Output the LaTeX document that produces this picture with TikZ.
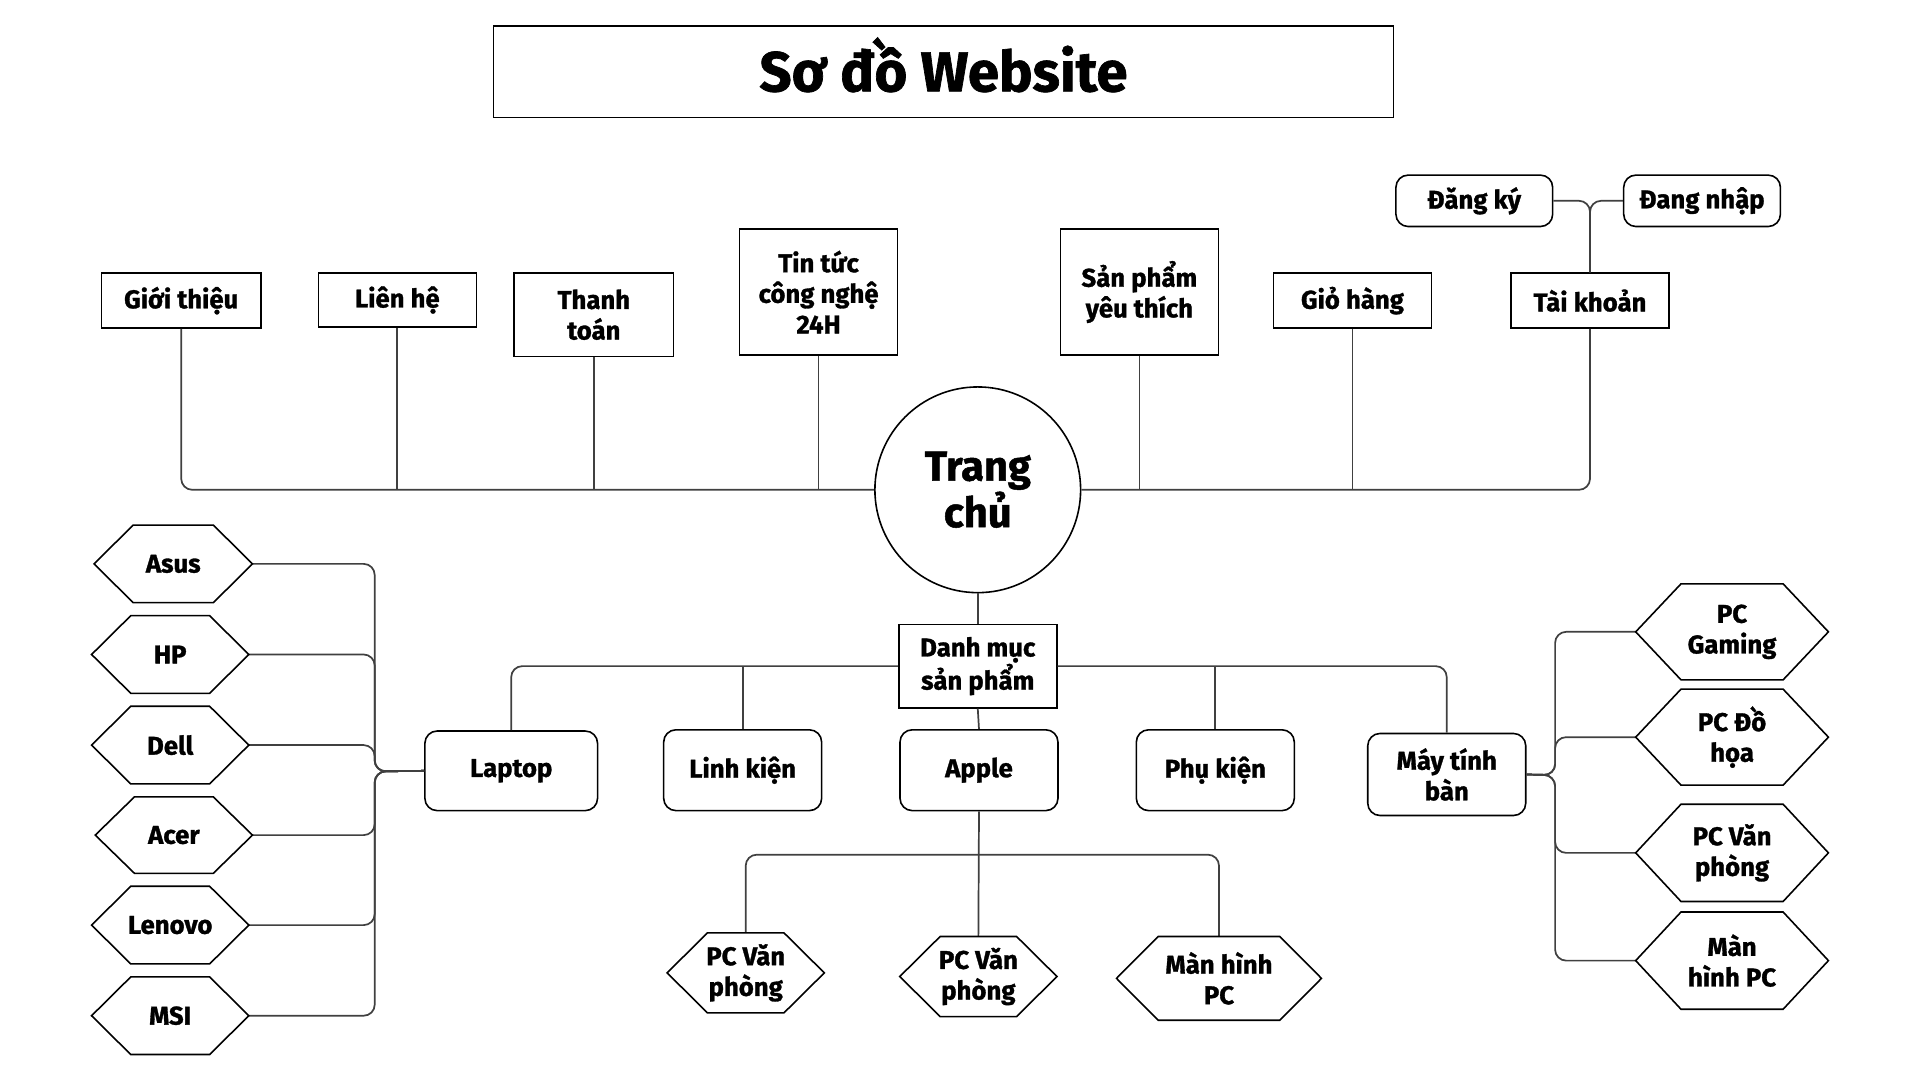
\documentclass[tikz,border=0pt]{standalone}
\usepackage{fontspec}
\setmainfont{Fira Sans}[BoldFeatures={FakeBold=1.2}]
\definecolor{conncol}{HTML}{404040}
\tikzset{
  box/.style={draw=black, line width=1.3pt, fill=white, inner sep=0pt, align=center,
    font=\fontsize{21}{25}\selectfont\bfseries},
  sqbox/.style={box},
  rbox/.style={box, rounded corners=10pt},
  hexbox/.style={inner sep=0pt, align=center, font=\fontsize{21}{25}\selectfont\bfseries},
  hexline/.style={draw=black, line width=1.3pt, fill=white},
  conn/.style={draw=conncol, line width=1.4pt, rounded corners=9pt},
  straightconn/.style={draw=conncol, line width=1.4pt},
}
\newcommand{\hexo}[2]{\path[hexline] (#1.west) -- ([xshift=#2]#1.north west) -- ([xshift=-#2]#1.north east) -- (#1.east) -- ([xshift=-#2]#1.south east) -- ([xshift=#2]#1.south west) -- cycle;}
\begin{document}
\begin{tikzpicture}[x=1pt,y=-1pt]
\useasboundingbox[fill=white] (0,0) rectangle (1568,882);

% title
\node[draw=black, line width=1.3pt, minimum width=735pt, minimum height=75pt, inner sep=0pt] (title) at (770.5,58.5) {};
\node[font=\fontsize{46}{50}\selectfont\bfseries, inner sep=0pt] (titleT) at (770.5,53) {Sơ đồ Website};

\coordinate (ab) at (799,698);
\coordinate (lb) at (306,630);
\coordinate (rb) at (1270,633);

% top row nodes
\node[sqbox, minimum width=130pt, minimum height=45pt] (gioi) at (148,245.5) {Giới thiệu};
\node[sqbox, minimum width=129pt, minimum height=44pt] (lien) at (324.5,245) {Liên hệ};
\node[sqbox, minimum width=130pt, minimum height=68pt] (thanh) at (485,257) {Thanh\\toán};
\node[sqbox, minimum width=129pt, minimum height=103pt] (tin) at (668.5,238.5) {Tin tức\\công nghệ\\24H};
\node[sqbox, minimum width=129pt, minimum height=103pt] (sp) at (930.5,238.5) {Sản phẩm\\yêu thích};
\node[sqbox, minimum width=129pt, minimum height=45pt] (gio) at (1104.5,245.5) {Giỏ hàng};
\node[sqbox, minimum width=129pt, minimum height=45pt] (tk) at (1298.5,245.5) {Tài khoản};
\node[rbox, minimum width=128pt, minimum height=42pt] (dk) at (1204,164) {Đăng ký};
\node[rbox, minimum width=128pt, minimum height=42pt] (dn) at (1390,164) {Đang nhập};

% centre
\node[circle, draw=black, line width=1.3pt, fill=white, minimum size=168pt, inner sep=0pt, align=center,
  font=\fontsize{34}{38}\selectfont\bfseries] (trang) at (798.5,400) {Trang\\chủ};
\node[sqbox, minimum width=129pt, minimum height=68pt] (dm) at (798.5,544) {Danh mục\\sản phẩm};

% second row
\node[rbox, minimum width=141pt, minimum height=65pt] (laptop) at (417.5,629.5) {Laptop};
\node[rbox, minimum width=129pt, minimum height=66pt] (linh) at (606.5,629) {Linh kiện};
\node[rbox, minimum width=129pt, minimum height=66pt] (apple) at (799.5,629) {Apple};
\node[rbox, minimum width=129pt, minimum height=66pt] (phu) at (992.5,629) {Phụ kiện};
\node[rbox, minimum width=129pt, minimum height=67pt] (mtb) at (1181.5,632.5) {Máy tính\\bàn};

% hexagon placeholders
\node[hexbox, minimum width=129pt, minimum height=63pt] (asus) at (141.5,460.5) {};
\node[hexbox, minimum width=128pt, minimum height=63pt] (hp) at (139,534.5) {};
\node[hexbox, minimum width=128pt, minimum height=63pt] (dell) at (139,608.5) {};
\node[hexbox, minimum width=128pt, minimum height=62pt] (acer) at (142,682) {};
\node[hexbox, minimum width=128pt, minimum height=63pt] (lenovo) at (139,755.5) {};
\node[hexbox, minimum width=128pt, minimum height=63pt] (msi) at (139,829.5) {};
\node[hexbox, minimum width=157pt, minimum height=78pt] (pcg) at (1414.5,516) {};
\node[hexbox, minimum width=157pt, minimum height=78pt] (pcd) at (1414.5,602) {};
\node[hexbox, minimum width=157pt, minimum height=79pt] (pcv) at (1414.5,696.5) {};
\node[hexbox, minimum width=157pt, minimum height=79pt] (mh) at (1414.5,784.5) {};
\node[hexbox, minimum width=128pt, minimum height=65pt] (ba) at (609,794.5) {};
\node[hexbox, minimum width=128pt, minimum height=65pt] (bb) at (799,797.5) {};
\node[hexbox, minimum width=167pt, minimum height=68pt] (bc) at (995.5,799) {};

% connectors: top
\draw[conn] (gioi.south) |- (trang.west);
\draw[straightconn] (lien.south) -- (lien.south |- trang.west);
\draw[straightconn] (thanh.south) -- (thanh.south |- trang.west);
\draw[straightconn] (tin.south) -- (tin.south |- trang.west);
\draw[conn] (tk.south) |- (trang.east);
\draw[straightconn] (sp.south) -- (sp.south |- trang.east);
\draw[straightconn] (gio.south) -- (gio.south |- trang.east);
\draw[conn] (tk.north) |- (dk.east);
\draw[conn] (tk.north) |- (dn.west);
% centre to category
\draw[straightconn] (trang.south) -- (dm.north);
\draw[conn] (dm.west) -| (laptop.north);
\draw[straightconn] (linh.north) -- (linh.north |- dm.west);
\draw[straightconn] (dm.south) -- (apple.north);
\draw[straightconn] (phu.north) -- (phu.north |- dm.east);
\draw[conn] (dm.east) -| (mtb.north);
% apple
\draw[conn] (ba.north) |- (ab) -| (bc.north);
\draw[straightconn] (apple.south) -- (bb.north);
% laptop
\foreach \h in {asus,hp,dell,acer,lenovo,msi}
  \draw[conn] (laptop.west) -- (lb) |- (\h.east);
% desktop
\foreach \h in {pcg,pcd,pcv,mh}
  \draw[conn] (mtb.east) -- (rb) |- (\h.west);

% hexagon outlines
\hexo{asus}{32pt}\hexo{hp}{32pt}\hexo{dell}{32pt}\hexo{acer}{32pt}\hexo{lenovo}{32pt}\hexo{msi}{32pt}
\hexo{pcg}{37pt}\hexo{pcd}{37pt}\hexo{pcv}{37pt}\hexo{mh}{37pt}
\hexo{ba}{33pt}\hexo{bb}{33pt}\hexo{bc}{34pt}

% hexagon labels
\node[hexbox] (asusT) at (asus) {Asus};
\node[hexbox] (hpT) at (hp) {HP};
\node[hexbox] (dellT) at (dell) {Dell};
\node[hexbox] (acerT) at (acer) {Acer};
\node[hexbox] (lenovoT) at (lenovo) {Lenovo};
\node[hexbox] (msiT) at (msi) {MSI};
\node[hexbox] (pcgT) at (pcg) {PC\\Gaming};
\node[hexbox] (pcdT) at (pcd) {PC Đồ\\họa};
\node[hexbox] (pcvT) at (pcv) {PC Văn\\phòng};
\node[hexbox] (mhT) at (mh) {Màn\\hình PC};
\node[hexbox] (baT) at (ba) {PC Văn\\phòng};
\node[hexbox] (bbT) at (bb) {PC Văn\\phòng};
\node[hexbox] (bcT) at (bc) {Màn hình\\PC};
\end{tikzpicture}
\end{document}
